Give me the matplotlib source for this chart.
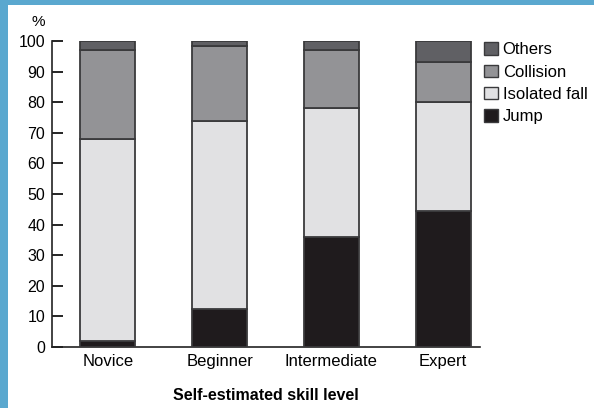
import numpy as np
import matplotlib.pyplot as plt
from matplotlib.patches import Rectangle, Patch

plt.rcParams['font.family'] = ['Liberation Sans', 'DejaVu Sans']

levels = ['Novice', 'Beginner', 'Intermediate', 'Expert']
jump = [2, 12.5, 36, 44.5]
isolated_fall = [66, 61.5, 42, 35.5]
collision = [29, 24.5, 19, 13]
others = [3, 1.5, 3, 7]

series = [
    ('Jump', jump, '#1f1b1d'),
    ('Isolated fall', isolated_fall, '#e1e1e3'),
    ('Collision', collision, '#939396'),
    ('Others', others, '#606064'),
]

fig = plt.figure(figsize=(5.94, 4.08), dpi=100)
fig.patch.set_facecolor('#5aa8cf')
# white slide area
fig.patches.append(Rectangle((8 / 594, 0), 1, 1 - 5 / 408, transform=fig.transFigure,
                             facecolor='white', edgecolor='none', zorder=-10))

ax = fig.add_axes([52 / 594, (408 - 347) / 408, (480 - 52) / 594, (347 - 41) / 408])
ax.set_facecolor('none')
ax.set_zorder(2)

x = np.arange(len(levels))
bottom = np.zeros(len(levels))
for name, vals, col in series:
    ax.bar(x, vals, width=0.49, bottom=bottom, color=col, edgecolor='#3a3a3c',
           linewidth=1.3, label=name, zorder=3)
    bottom += np.array(vals)

ax.set_xlim(-0.5, 3.33)
ax.set_ylim(0, 100)
ax.set_yticks(range(0, 101, 10))
ax.set_xticks(x)
ax.set_xticklabels(levels, fontsize=12)
ax.tick_params(axis='y', direction='in', length=8, width=1.2, labelsize=11.5, pad=5)
ax.tick_params(axis='x', length=0, pad=5)
for s in ['top', 'right']:
    ax.spines[s].set_visible(False)
for s in ['left', 'bottom']:
    ax.spines[s].set_linewidth(1.2)
    ax.spines[s].set_color('#222222')

ax.set_xlabel('Self-estimated skill level', fontsize=11.5, fontweight='bold', labelpad=14)
fig.text(38 / 594, 1 - 22 / 408, '%', fontsize=11, ha='center', va='center')

handles = [Patch(facecolor=col, edgecolor='#3a3a3c', linewidth=1.0, label=name)
           for name, vals, col in series[::-1]]
fig.legend(handles=handles, loc='upper left', bbox_to_anchor=(481 / 594, 1 - 39 / 408),
           frameon=False, fontsize=12, handlelength=0.8, handleheight=0.8,
           handletextpad=0.3, labelspacing=0.42, borderaxespad=0, borderpad=0.2)

fig.savefig('out.png', dpi=100)
